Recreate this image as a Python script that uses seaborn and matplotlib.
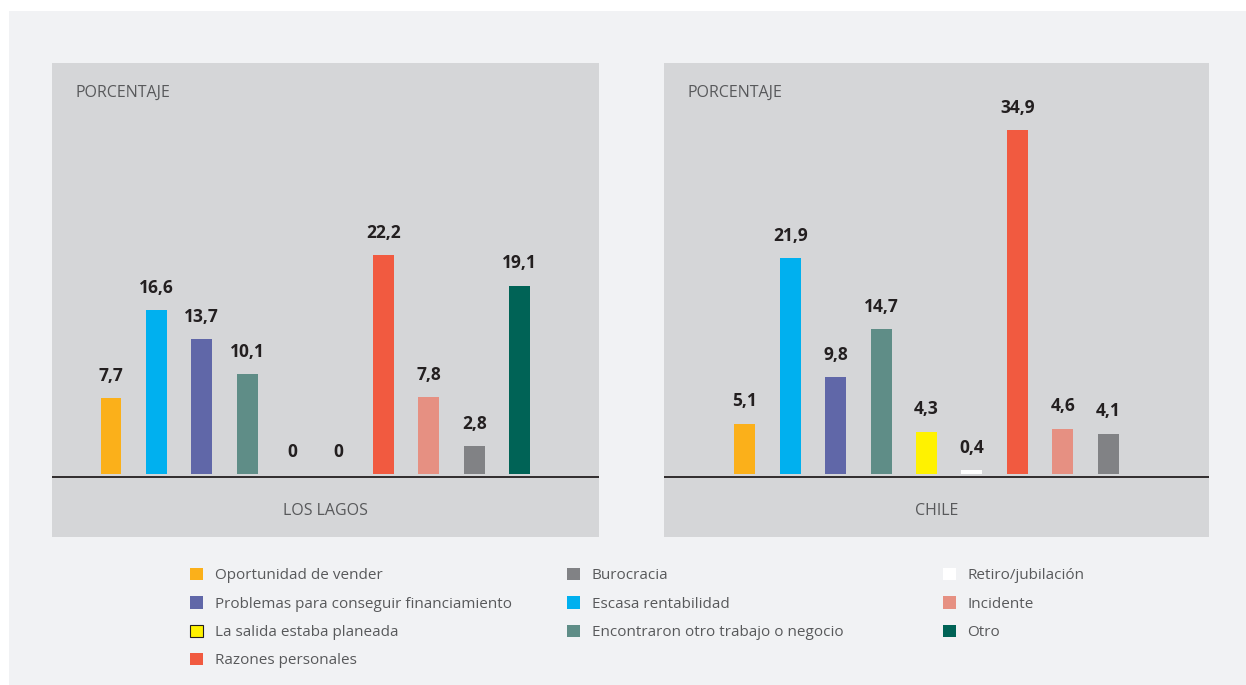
import matplotlib
matplotlib.use('Agg')
import matplotlib.pyplot as plt
import matplotlib.patches as mpatches
import seaborn as sns
import pandas as pd

sns.set_theme(style="white")
plt.rcParams['font.family'] = ['Open Sans', 'DejaVu Sans']

# ==========================================
# DATA
# ==========================================
lagos_cats = ["Oportunidad de vender", "Escasa rentabilidad",
              "Problemas para conseguir financiamiento",
              "Encontraron otro trabajo o negocio", "La salida estaba planeada",
              "Retiro/jubilación", "Razones personales", "Incidente",
              "Burocracia", "Otro"]
lagos_vals = [7.7, 16.6, 13.7, 10.1, 0, 0, 22.2, 7.8, 2.8, 19.1]

chile_cats = ["Oportunidad de vender", "Escasa rentabilidad",
              "Problemas para conseguir financiamiento",
              "Encontraron otro trabajo o negocio", "La salida estaba planeada",
              "Retiro/jubilación", "Razones personales", "Incidente",
              "Burocracia"]
chile_vals = [5.1, 21.9, 9.8, 14.7, 4.3, 0.4, 34.9, 4.6, 4.1]

colors = {
    "Oportunidad de vender": "#fbb01a",
    "Escasa rentabilidad": "#00b0ef",
    "Problemas para conseguir financiamiento": "#6067a8",
    "Encontraron otro trabajo o negocio": "#5f8d87",
    "La salida estaba planeada": "#fff200",
    "Retiro/jubilación": "#ffffff",
    "Razones personales": "#f15a40",
    "Incidente": "#e69082",
    "Burocracia": "#818285",
    "Otro": "#006356",
}

legend_cols = [
    ["Oportunidad de vender", "Problemas para conseguir financiamiento",
     "La salida estaba planeada", "Razones personales"],
    ["Burocracia", "Escasa rentabilidad", "Encontraron otro trabajo o negocio"],
    ["Retiro/jubilación", "Incidente", "Otro"],
]

PANEL_BG = "#d5d6d8"
OUTER_BG = "#f1f2f4"
TEXT_GRAY = "#58595b"
LABEL_DARK = "#231f20"

W, H = 1246, 685
fig = plt.figure(figsize=(W / 100, H / 100), dpi=100)
fig.patch.set_facecolor("white")
fig.patches.append(mpatches.Rectangle((9 / W, 0), 1 - 9 / W, 1 - 11 / H,
                                      transform=fig.transFigure,
                                      facecolor=OUTER_BG, edgecolor="none", zorder=-10))


def px_box(x0, y0, x1, y1):
    return [x0 / W, 1 - y1 / H, (x1 - x0) / W, (y1 - y0) / H]


def draw_panel(rect, cats, vals, title, xlim):
    ax = fig.add_axes(rect)
    df = pd.DataFrame({"cat": cats, "val": vals})
    sns.barplot(data=df, x="cat", y="val", hue="cat", palette=colors,
                order=cats, hue_order=cats, width=0.46, legend=False,
                saturation=1, linewidth=0, edgecolor="none", ax=ax)
    ax.set_facecolor(PANEL_BG)
    ax.set_ylim(-6.4, 41.7)
    ax.set_xlim(*xlim)
    ax.axhline(-0.3, color="#231f20", lw=1.3, zorder=3)
    for i, v in enumerate(vals):
        lbl = f"{v:.1f}".replace(".", ",") if v != 0 else "0"
        ax.annotate(lbl, (i, v), xytext=(0, 16), textcoords="offset points",
                    ha="center", va="center", fontsize=12.5, fontweight="bold",
                    color=LABEL_DARK)
    ax.set_xticks([])
    ax.set_yticks([])
    ax.set_xlabel("")
    ax.set_ylabel("")
    for s in ax.spines.values():
        s.set_visible(False)
    ax.text(0.043, 0.937, "PORCENTAJE", transform=ax.transAxes, fontsize=11.5,
            color=TEXT_GRAY, ha="left", va="center")
    ax.text(0.5, 26 / 474, title, transform=ax.transAxes, fontsize=11.5,
            color=TEXT_GRAY, ha="center", va="center")
    return ax


draw_panel(px_box(52, 63, 599, 537), lagos_cats, lagos_vals, "LOS LAGOS", (-1.3, 10.75))
draw_panel(px_box(664, 63, 1209, 537), chile_cats, chile_vals, "CHILE", (-1.78, 10.22))

# legend: three columns of labels
col_x = [184, 561, 937]
for cx, col in zip(col_x, legend_cols):
    handles = [mpatches.Patch(facecolor=colors[c],
                              edgecolor="#231f20" if c == "La salida estaba planeada" else "none",
                              lw=0.8, label=c) for c in col]
    leg = fig.legend(handles=handles, loc="upper left",
                     bbox_to_anchor=(cx / W, 1 - 562 / H), frameon=False,
                     fontsize=11, handlelength=0.85, handleheight=0.85,
                     handletextpad=0.75, labelspacing=0.84, borderaxespad=0)
    for t in leg.get_texts():
        t.set_color(TEXT_GRAY)

fig.savefig("out.png", dpi=100, facecolor=fig.get_facecolor())
